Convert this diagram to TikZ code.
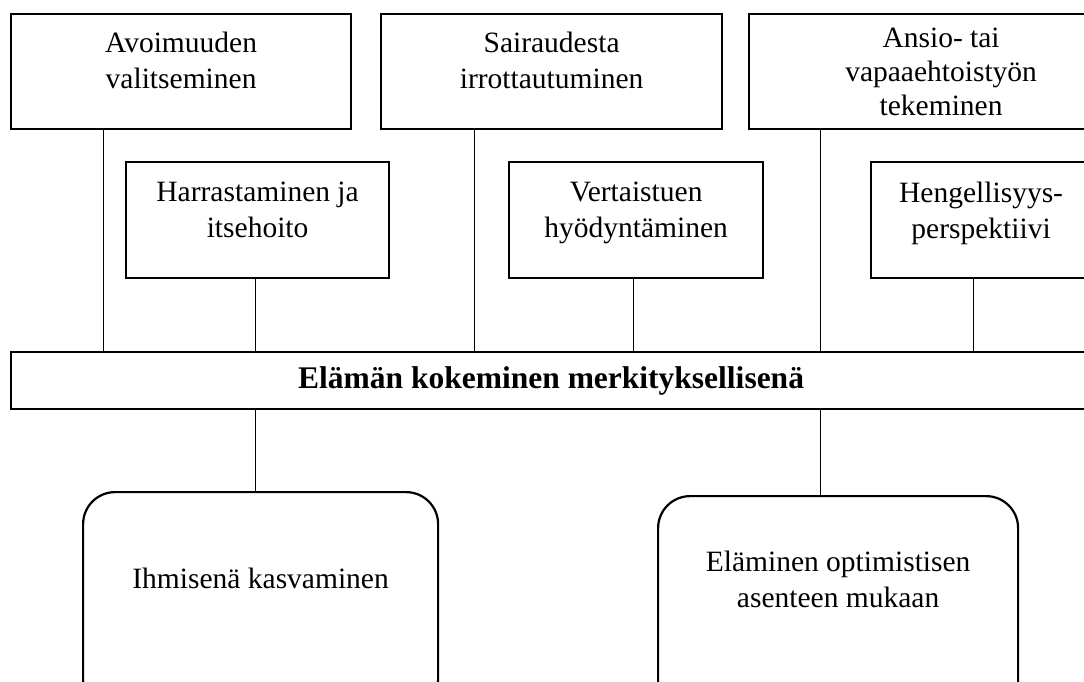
\documentclass[tikz,border=0pt]{standalone}
\usepackage{fontspec}
\setmainfont{Liberation Serif}
\usetikzlibrary{positioning}

\begin{document}
\begin{tikzpicture}[
  x=1pt, y=-1pt,
  box/.style={draw, line width=2.2pt, anchor=north west, inner sep=0pt},
  boxtext/.style={align=center, inner sep=0pt, anchor=north,
    font=\fontsize{29.5}{36}\selectfont},
  link/.style={line width=1pt},
]
  \useasboundingbox (0,0) rectangle (1084,681);
  \clip (0,0) rectangle (1084,681);

  % top row
  \node[box, minimum width=340pt, minimum height=115pt,
    label={[boxtext, yshift=-19pt]north:{Avoimuuden\\valitseminen}}]
    (avoin) at (10,13) {};
  \node[box, minimum width=341pt, minimum height=115pt,
    label={[boxtext, yshift=-19pt]north:{Sairaudesta\\irrottautuminen}}]
    (sairaus) at (380,13) {};
  \node[box, minimum width=384pt, minimum height=115pt,
    label={[boxtext, yshift=-15pt, font=\fontsize{29.5}{34}\selectfont]north:{Ansio- tai\\vapaaehtoistyön\\tekeminen}}]
    (ansio) at (748,13) {};

  % second row
  \node[box, minimum width=263pt, minimum height=116pt,
    label={[boxtext, yshift=-21pt]north:{Harrastaminen ja\\itsehoito}}]
    (harrastus) at (125,161) {};
  \node[box, minimum width=254pt, minimum height=116pt,
    label={[boxtext, yshift=-21pt]north:{Vertaistuen\\hyödyntäminen}}]
    (vertais) at (508,161) {};
  \node[box, minimum width=220pt, minimum height=116pt,
    label={[boxtext, yshift=-21pt]north:{Hengellisyys-\\perspektiivi}}]
    (hengell) at (870,161) {};

  % middle bar
  \node[box, minimum width=1080pt, minimum height=57pt,
    font=\fontsize{31.5}{36}\selectfont\bfseries]
    (elama) at (10,351) {Elämän kokeminen merkityksellisenä};

  % bottom
  \node[box, rounded corners=32pt, minimum width=355pt, minimum height=220pt,
    label={[boxtext, yshift=-77pt]north:{Ihmisenä kasvaminen}}]
    (kasvu) at (82,491) {};
  \node[box, rounded corners=32pt, minimum width=360pt, minimum height=220pt,
    label={[boxtext, yshift=-56pt]north:{Eläminen optimistisen\\asenteen mukaan}}]
    (optimismi) at (657,495) {};

  % connectors
  \coordinate (d1) at (103,0);
  \coordinate (d2) at (474,0);
  \coordinate (d3) at (820,0);
  \coordinate (d4) at (255,0);
  \coordinate (d5) at (633,0);
  \coordinate (d6) at (973,0);
  \draw[link] (avoin.south -| d1) -- (elama.north -| d1);
  \draw[link] (sairaus.south -| d2) -- (elama.north -| d2);
  \draw[link] (ansio.south -| d3) -- (elama.north -| d3);
  \draw[link] (harrastus.south -| d4) -- (elama.north -| d4);
  \draw[link] (vertais.south -| d5) -- (elama.north -| d5);
  \draw[link] (hengell.south -| d6) -- (elama.north -| d6);
  \draw[link] (elama.south -| d4) -- (kasvu.north -| d4);
  \draw[link] (elama.south -| d3) -- (optimismi.north -| d3);
\end{tikzpicture}
\end{document}
